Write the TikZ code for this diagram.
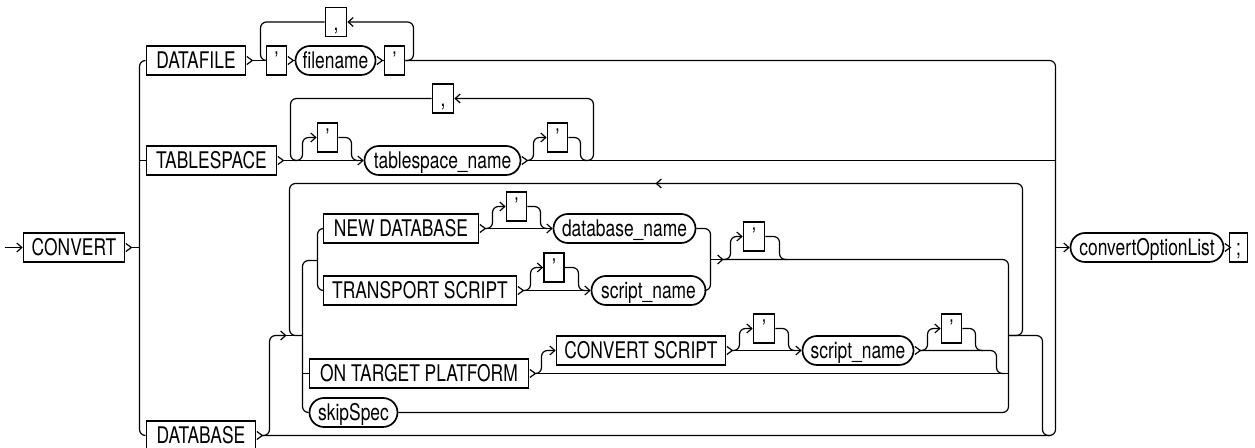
\documentclass[tikz,border=0pt]{standalone}
\usepackage{fontspec}
\setmainfont{TeX Gyre Heros}[FakeStretch=0.76]
\usetikzlibrary{arrows.meta,shapes.misc}
\newcommand\chev[1]{\draw[ln] ([shift={(0.5,-4)}]#1.east) -- ++(5.5,4) -- ++(-5.5,4);}
\begin{document}
\begin{tikzpicture}[x=1bp,y=-1bp,
  kw/.style={draw, line width=1.7pt, rectangle, minimum height=29bp, inner sep=0pt,
    text height=16.5pt, text depth=0pt, font=\fontsize{23}{23}\selectfont},
  nt/.style={kw, rounded rectangle},
  ln/.style={line width=1.2pt},
  rc/.style={ln, rounded corners=6pt},
  tip/.style={-{Straight Barb[length=5pt,width=9pt]}}]
\useasboundingbox (0,0) rectangle (1255,448);
\begin{scope}[shift={(0.5,0.5)}]
% nodes
\node[kw,minimum width=101bp] (cv) at (73.5,247) {CONVERT};
\node[kw,minimum width=99bp] (df) at (195.5,60) {DATAFILE};
\node[kw,minimum width=20bp] (q1) at (276,60) {’};
\node[nt,minimum width=80bp] (fn) at (335,60) {filename};
\node[kw,minimum width=20bp] (q2) at (394,60) {’};
\node[kw,minimum width=21bp] (cm1) at (335.5,21.5) {,};
\node[kw,minimum width=130bp] (ts) at (211,160) {TABLESPACE};
\node[kw,minimum width=20bp] (tq1) at (327,137) {’};
\node[nt,minimum width=156bp] (tsn) at (442,160) {tablespace\_name};
\node[kw,minimum width=20bp] (tq2) at (557,137) {’};
\node[kw,minimum width=21bp] (cm2) at (442.5,98) {,};
\node[kw,minimum width=109bp] (db) at (200.5,435) {DATABASE};
\node[kw,minimum width=155bp] (newdb) at (400.5,228) {NEW DATABASE};
\node[kw,minimum width=20bp] (nq) at (516,206) {’};
\node[nt,minimum width=142bp] (dbn) at (624,228) {database\_name};
\node[kw,minimum width=193bp] (tscr) at (419.5,290) {TRANSPORT SCRIPT};
\node[kw,minimum width=20bp] (tq) at (553.5,267) {’};
\node[nt,minimum width=114bp] (scn) at (648,290) {script\_name};
\node[kw,minimum width=21bp] (oq) at (753.5,236) {’};
\node[kw,minimum width=219bp] (otp) at (418.5,373) {ON TARGET PLATFORM};
\node[kw,minimum width=169bp] (cs) at (640.5,350) {CONVERT SCRIPT};
\node[kw,minimum width=21bp] (cq) at (763.5,328) {’};
\node[nt,minimum width=111bp] (sn2) at (857.5,350) {script\_name};
\node[kw,minimum width=20bp] (eq) at (951,328) {’};
\node[nt,minimum width=88bp] (skip) at (353,412) {skipSpec};
\node[nt,minimum width=153bp] (col) at (1146.5,247) {convertOptionList};
\node[kw,minimum width=18bp] (semi) at (1238,247) {;};
% entry
\draw[ln,tip] (4,247) -- (cv.west);
\chev{cv}
\draw[ln] (130,247) -- (139,247);
\draw[rc] (df.west) -- (139,60) -- (139,435) -- (db.west);
\draw[ln] (139,160) -- (ts.west);
% DATAFILE
\chev{df}
\draw[ln] (251,60) -- (q1.west);
\draw[rc] (cm1.west) -- (260,21.5) -- (260,60) -- (q1.west);
\chev{q1}
\draw[ln] (292,60) -- (fn.west);
\chev{fn}
\draw[ln] (381,60) -- (q2.west);
\draw[rc,tip] (q2.east) -- (413,60) -- (413,21.5) -- (cm1.east);
\draw[rc] (q2.east) -- (1055,60) -- (1055,435) -- (261,435);
\chev{db}
% TABLESPACE
\chev{ts}
\draw[ln,tip] (282,160) -- (tsn.west);
\draw[rc] (cm2.west) -- (290,98) -- (290,160) -- (296,160);
\draw[rc,tip] (294,160) -- (302,160) -- (302,137) -- (tq1.west);
\draw[rc] (tq1.east) -- (351,137) -- (351,160) -- (358,160);
\chev{tsn}
\draw[ln] (526,160) -- (1055,160);
\draw[rc,tip] (526,160) -- (533,160) -- (533,137) -- (tq2.west);
\draw[rc] (tq2.east) -- (580,137) -- (580,160) -- (586,160);
\draw[rc,tip] (584,160) -- (593,160) -- (593,98) -- (cm2.east);
% DATABASE
\draw[rc,tip] (261,435) -- (269,435) -- (269,335) -- (286,335);
\draw[ln] (284,335) -- (302,335);
\draw[rc,tip] (1008,335) -- (1022,335) -- (1022,183) -- (655,183);
\draw[rc] (660,183) -- (289,183) -- (289,335) -- (302,335);
\draw[rc] (1008,335) -- (1042,335) -- (1042,435) -- (1050,435);
\draw[rc] (317,260) -- (302,260) -- (302,412) -- (skip.west);
\draw[ln] (302,373) -- (otp.west);
\draw[rc] (newdb.west) -- (317,228) -- (317,290) -- (tscr.west);
% NEW DATABASE
\chev{newdb}
\draw[ln,tip] (484,228) -- (dbn.west);
\draw[rc,tip] (484,228) -- (492,228) -- (492,206) -- (nq.west);
\draw[rc] (nq.east) -- (540,206) -- (540,228) -- (547,228);
% TRANSPORT SCRIPT
\chev{tscr}
\draw[ln,tip] (522,290) -- (scn.west);
\draw[rc,tip] (522,290) -- (530,290) -- (530,267) -- (tq.west);
\draw[rc] (tq.east) -- (578,267) -- (578,290) -- (585,290);
% join
\draw[rc] (dbn.east) -- (710,228) -- (710,290) -- (scn.east);
\draw[ln,tip] (710,259) -- (723,259);
\draw[rc,tip] (722,259) -- (730,259) -- (730,236) -- (oq.west);
\draw[rc] (oq.east) -- (779,236) -- (779,259) -- (786,259);
\draw[rc] (722,259) -- (1008,259) -- (1008,412) -- (skip.east);
% ON TARGET PLATFORM
\chev{otp}
\draw[ln] (534,373) -- (1008,373);
\draw[rc,tip] (534,373) -- (541,373) -- (541,350) -- (cs.west);
\chev{cs}
\draw[ln,tip] (731,350) -- (sn2.west);
\draw[rc,tip] (731,350) -- (739,350) -- (739,328) -- (cq.west);
\draw[rc] (cq.east) -- (788,328) -- (788,350) -- (795,350);
\chev{sn2}
\draw[rc] (919,350) -- (996,350) -- (996,373) -- (1004,373);
\draw[rc,tip] (919,350) -- (927,350) -- (927,328) -- (eq.west);
\draw[rc] (eq.east) -- (975,328) -- (975,350) -- (982,350);
% exit
\draw[ln,tip] (1055,247) -- (col.west);
\chev{col}
\end{scope}
\end{tikzpicture}
\end{document}
